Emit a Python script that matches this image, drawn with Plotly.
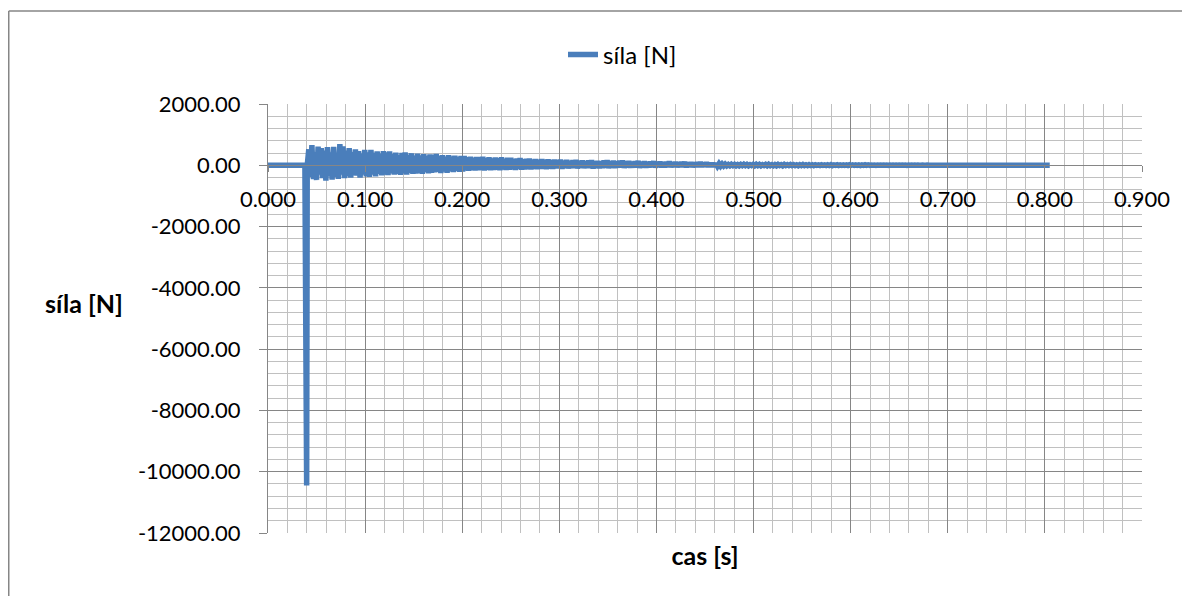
import plotly.graph_objects as go

# ---------------- data ----------------
series_name = "síla [N]"

t_pre = [0.000, 0.038]
f_pre = [0.0, 0.0]

t_spike = [0.0398, 0.0404]
f_spike = [-10450.0, 0.0]

osc_t0 = 0.042
osc_dt = 0.0016
f_osc = [
    520, -380, 660, -450, 430, -480, 610, -300, 560, -420,
    480, -500, 590, -350, 420, -470, 600, -380, 350, -440,
    690, -300, 620, -420, 480, -360, 560, -400, 430, -330,
    520, -340, 460, -400, 380, -300, 500, -360, 420, -380,
    500, -300, 400, -360, 450, -280, 380, -330, 460, -300,
    420, -320, 450, -260, 360, -300, 410, -280, 330, -310,
    400, -260, 420, -300, 340, -240, 390, -280, 310, -270,
    380, -250, 320, -280, 360, -220, 300, -260, 350, -240,
    340, -230, 365, -210, 300, -250, 330, -200, 280, -240,
    330, -190, 290, -220, 310, -180, 270, -210, 300, -200,
    300, -170, 260, -180, 280, -150, 240, -170, 270, -160,
    270, -150, 280, -170, 230, -140, 260, -160, 220, -150,
    250, -140, 230, -160, 260, -130, 210, -150, 240, -140,
    240, -130, 200, -150, 220, -120, 230, -140, 190, -130,
    210, -120, 220, -130, 180, -110, 200, -120, 170, -110,
    200, -110, 170, -120, 190, -100, 160, -110, 180, -100,
    170, -100, 180, -110, 150, -90, 170, -100, 140, -90,
    160, -90, 170, -100, 140, -80, 150, -90, 130, -85,
    150, -90, 160, -100, 130, -80, 140, -95, 120, -85,
    150, -80, 160, -90, 130, -75, 145, -85, 120, -70,
    140, -70, 150, -80, 120, -65, 135, -75, 110, -70,
    130, -70, 140, -80, 110, -60, 125, -75, 105, -65,
    120, -60, 130, -70, 100, -55, 115, -65, 95, -60,
    110, -55, 120, -60, 95, -50, 105, -55, 90, -50,
    100, -50, 110, -60, 85, -45, 95, -55, 80, -50,
    90, -45, 100, -50, 80, -40, 90, -45, 75, -40,
    70, -35, 60, -30, 50, -25, 40, -20, 35, -15,
    25, -15, 30, -10, 25, -15, 20, -15, 25, -10,
    30, -10, 25, -15, 20, -10, 25, -15, 30, -10,
    25, -15, 20, -10, 25, -15, 30, -10, 20, -15,
    20, -15, 25, -10, 20, -15, 25, -10, 20, -10,
    25, -10, 20, -10, 15, -15, 20, -10, 25, -10,
    15, -10, 20, -5, 15, -10, 15, -5, 10, -10,
    15, -5, 10, -10, 15, -5, 20, -10, 10, -5,
    15, -10, 10, -5, 15, -5, 10, -10, 15, -5,
    10, -5, 15, -5, 10, -10, 10, -5, 15, -5,
    10, -5, 10, 0, 5, -5, 10, 0, 5, 0,
    10, 0, 5, -5, 10, 0, 5, 0, 5, 0,
    5, 0, 10, 0, 5, -5, 5, 0, 5, 0,
    5, 0, 5, 0, 0, 5, 0, 0, 5, 0,
]
t_osc = [osc_t0 + i * osc_dt for i in range(len(f_osc))]

t_tail = [0.684, 0.805]
f_tail = [0.0, 0.0]

t_all = t_pre + t_spike + t_osc + t_tail
f_all = f_pre + f_spike + f_osc + f_tail

x_tickvals = [0.0, 0.1, 0.2, 0.3, 0.4, 0.5, 0.6, 0.7, 0.8, 0.9]
x_ticktext = ["0.000", "0.100", "0.200", "0.300", "0.400", "0.500",
              "0.600", "0.700", "0.800", "0.900"]
y_tickvals = [2000, 0, -2000, -4000, -6000, -8000, -10000, -12000]
y_ticktext = ["2000.00", "0.00", "-2000.00", "-4000.00", "-6000.00",
              "-8000.00", "-10000.00", "-12000.00"]

x_title = "cas [s]"
y_title = "síla [N]"

# ---------------- style ----------------
FONT = "Lato"
FS = 22
FS_T = 24
BLUE = "#4a7ebb"
MAJOR = "#868686"
MINOR = "#c0c0c0"

# page body has an 8px margin, so the figure is sized/offset for it
W, H = 1182, 588
L, R, T, B = 260, 48, 96, 63
pw, ph = W - L - R, H - T - B
YMIN, YMAX = -12000, 2000

fig = go.Figure()
fig.add_trace(go.Scatter(
    x=t_all, y=f_all, mode="lines", name=series_name,
    line=dict(color=BLUE, width=5.5, simplify=False),
    xaxis="x", yaxis="y",
))
# invisible trace to activate the crossing x axis
fig.add_trace(go.Scatter(
    x=[x_tickvals[0], x_tickvals[-1]], y=[0, 0], mode="lines",
    line=dict(width=0), showlegend=False, hoverinfo="skip",
    xaxis="x2", yaxis="y",
))

fig.update_layout(
    width=W, height=H,
    margin=dict(l=L, r=R, t=T, b=B),
    paper_bgcolor="white", plot_bgcolor="white",
    font=dict(family=FONT, size=FS, color="black"),
    showlegend=True,
    legend=dict(
        orientation="h", xref="container", yref="container",
        x=555 / W, xanchor="left", y=1 - 47 / H, yanchor="middle",
        font=dict(family=FONT, size=FS_T, color="black"),
        bgcolor="rgba(0,0,0,0)", itemwidth=30,
    ),
    xaxis=dict(
        range=[0, 0.9], showticklabels=False, ticks="",
        showgrid=True, gridcolor=MAJOR, gridwidth=1,
        tickvals=x_tickvals,
        minor=dict(dtick=0.02, tick0=0, showgrid=True, gridcolor=MINOR, gridwidth=1),
        showline=False, zeroline=False,
        title=dict(text="<b>" + x_title + "</b>", standoff=14,
                   font=dict(family=FONT, size=25, color="black")),
    ),
    xaxis2=dict(
        range=[0, 0.9], overlaying="x", anchor="free",
        position=(0 - YMIN) / (YMAX - YMIN), side="bottom",
        tickvals=x_tickvals, ticktext=x_ticktext,
        ticks="outside", ticklen=6, tickcolor=MAJOR,
        showline=True, linecolor=MAJOR, linewidth=1,
        showgrid=False, zeroline=False,
        ticklabelstandoff=8,
        tickfont=dict(family=FONT, size=FS, color="black"),
    ),
    yaxis=dict(
        range=[YMIN, YMAX],
        tickvals=y_tickvals, ticktext=y_ticktext,
        ticks="outside", ticklen=8, tickcolor=MAJOR,
        showline=True, linecolor=MAJOR, linewidth=1,
        showgrid=True, gridcolor=MAJOR, gridwidth=1,
        minor=dict(dtick=400, tick0=0, showgrid=True, gridcolor=MINOR, gridwidth=1),
        zeroline=False,
        ticklabelstandoff=14,
        tickfont=dict(family=FONT, size=FS, color="black"),
    ),
)

# y axis title (horizontal, as in the reference)
fig.add_annotation(
    text="<b>" + y_title + "</b>", xref="paper", yref="paper",
    x=(76 - L) / pw, y=(H - B - 295) / ph, showarrow=False,
    xanchor="center", yanchor="middle",
    font=dict(family=FONT, size=25, color="black"),
)

# outer chart border (left and top edges visible)
bx0 = (0.75 - L) / pw
by0 = (H - B - 3) / ph
fig.add_shape(type="line", xref="paper", yref="paper",
              x0=bx0, y0=by0, x1=(W + 10 - L) / pw, y1=by0,
              line=dict(color=MAJOR, width=1.5))
fig.add_shape(type="line", xref="paper", yref="paper",
              x0=bx0, y0=by0, x1=bx0, y1=(H - B - H - 10) / ph,
              line=dict(color=MAJOR, width=1.5))

fig.write_html("out.html")
